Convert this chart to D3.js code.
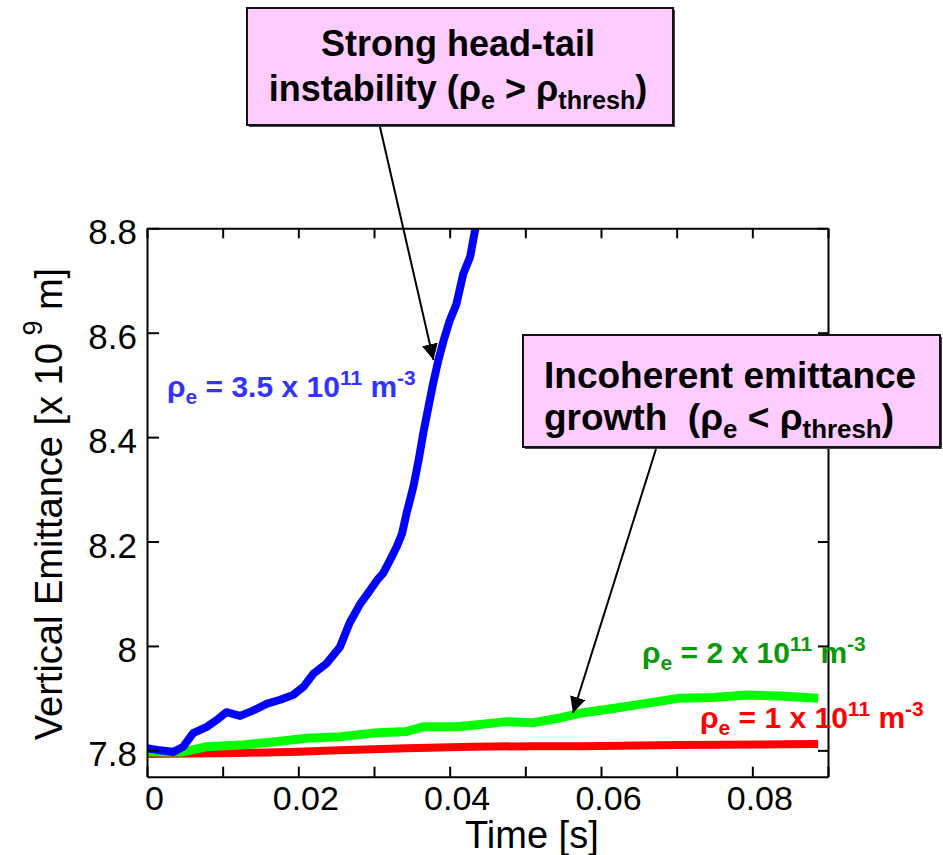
<!DOCTYPE html>
<html>
<head>
<meta charset="utf-8">
<script src="https://cdn.jsdelivr.net/npm/d3@7/dist/d3.min.js"></script>
<style>
  html, body { margin: 0; padding: 0; background: #fff; }
  svg { display: block; }
  text { font-family: "Liberation Sans", Arial, Helvetica, sans-serif; white-space: pre; }
</style>
</head>
<body>
<svg id="chart" width="943" height="855"></svg>
<script>
// ---------------- data ----------------
const blueTime = [0, 0.0017, 0.0035, 0.0048, 0.0061, 0.0079, 0.0092, 0.0105, 0.0123, 0.014,
  0.0158, 0.0176, 0.0193, 0.0207, 0.022, 0.0237, 0.0255, 0.0268, 0.0282, 0.0295, 0.0304,
  0.0312, 0.0321, 0.033, 0.0337, 0.0343, 0.0352, 0.0359, 0.0365, 0.0372, 0.0378, 0.0385,
  0.0392, 0.04, 0.0409, 0.0418, 0.0427, 0.0434, 0.0442];
const blueEmit = [7.804, 7.800, 7.797, 7.807, 7.833, 7.845, 7.858, 7.873, 7.866, 7.876,
  7.889, 7.897, 7.906, 7.922, 7.947, 7.966, 7.998, 8.045, 8.081, 8.107, 8.126,
  8.139, 8.164, 8.190, 8.215, 8.254, 8.305, 8.356, 8.407, 8.458, 8.502, 8.547,
  8.585, 8.623, 8.655, 8.713, 8.745, 8.800, 8.840];

const greenTime = [0, 0.0048, 0.0079, 0.0123, 0.0167, 0.0211, 0.0255, 0.0299, 0.0343, 0.0365,
  0.0409, 0.0431, 0.0475, 0.0511, 0.0546, 0.0572, 0.0616, 0.066, 0.0704, 0.0748, 0.0793,
  0.0837, 0.0887];
const greenEmit = [7.797, 7.797, 7.807, 7.810, 7.816, 7.823, 7.826, 7.833, 7.836, 7.845,
  7.845, 7.848, 7.855, 7.853, 7.862, 7.871, 7.880, 7.890, 7.900, 7.901, 7.906,
  7.904, 7.900];

const redTime = [0, 0.0123, 0.0189, 0.0255, 0.0343, 0.0431, 0.0511, 0.0572, 0.0704, 0.0887];
const redEmit = [7.793, 7.795, 7.797, 7.800, 7.804, 7.807, 7.808, 7.808, 7.810, 7.812];

const xTickValues = [0, 0.01, 0.02, 0.03, 0.04, 0.05, 0.06, 0.07, 0.08, 0.09];
const xTickLabels = ["0", "", "0.02", "", "0.04", "", "0.06", "", "0.08", ""];
const yTickValues = [7.8, 8, 8.2, 8.4, 8.6, 8.8];
const yTickLabels = ["7.8", "8", "8.2", "8.4", "8.6", "8.8"];

// ---------------- layout ----------------
const svg = d3.select("#chart");
const L = 147, R = 828, T = 228.3, B = 776.7;
const x = d3.scaleLinear().domain([0, 0.09]).range([L, R]);
const y = d3.scaleLinear().domain([7.7495, 8.8]).range([B, T]);

svg.append("defs").append("clipPath").attr("id", "plotclip")
  .append("rect").attr("x", L).attr("y", T).attr("width", R - L).attr("height", B - T);

const zip = (ts, vs) => ts.map((t, i) => [t, vs[i]]);
const line = d3.line().x(d => x(d[0])).y(d => y(d[1]));

const curves = svg.append("g").attr("clip-path", "url(#plotclip)");
[
  {data: zip(redTime, redEmit), color: "#ff0000", w: 8},
  {data: zip(greenTime, greenEmit), color: "#00ff00", w: 9},
  {data: zip(blueTime, blueEmit), color: "#0000ff", w: 8}
].forEach(s => {
  curves.append("path").datum(s.data).attr("d", line)
    .attr("fill", "none").attr("stroke", s.color).attr("stroke-width", s.w)
    .attr("stroke-linejoin", "round").attr("stroke-linecap", "butt");
});

// ---------------- axes ----------------
function styleAxis(g) {
  g.selectAll("path.domain").attr("stroke", "#000").attr("stroke-width", 2);
  g.selectAll(".tick line").attr("stroke", "#000").attr("stroke-width", 2);
}
const gB = svg.append("g").attr("transform", `translate(0,${B})`)
  .call(d3.axisBottom(x).tickValues(xTickValues).tickSizeInner(-10).tickSizeOuter(0)
    .tickPadding(0).tickFormat((d, i) => xTickLabels[i]));
styleAxis(gB);
gB.selectAll(".tick text").attr("fill", "#000").attr("font-size", 34)
  .attr("dy", null).attr("y", 33).attr("dx", 7);

const gT = svg.append("g").attr("transform", `translate(0,${T})`)
  .call(d3.axisTop(x).tickValues(xTickValues).tickSizeInner(-10).tickSizeOuter(0).tickFormat(""));
styleAxis(gT);

const gL = svg.append("g").attr("transform", `translate(${L},0)`)
  .call(d3.axisLeft(y).tickValues(yTickValues).tickSizeInner(-12).tickSizeOuter(0)
    .tickPadding(10).tickFormat((d, i) => yTickLabels[i]));
styleAxis(gL);
gL.selectAll(".tick text").attr("fill", "#000").attr("font-size", 35)
  .attr("dy", "0.36em").attr("y", 3);

const gR = svg.append("g").attr("transform", `translate(${R},0)`)
  .call(d3.axisRight(y).tickValues(yTickValues).tickSizeInner(-10).tickSizeOuter(0).tickFormat(""));
styleAxis(gR);

// axis titles
svg.append("text").attr("x", 465).attr("y", 848).attr("font-size", 38).attr("fill", "#000")
  .text("Time [s]");

const yt = svg.append("text").attr("transform", "translate(62,504) rotate(-90)")
  .attr("text-anchor", "middle").attr("font-size", 38).attr("fill", "#000");
yt.append("tspan").text("Vertical Emittance [x 10");
yt.append("tspan").attr("font-size", 27).attr("dy", -20).text(" 9");
yt.append("tspan").attr("dy", 20).text(" m]");

// ---------------- curve labels ----------------
function rhoLabel(xp, yp, color, mant) {
  const t = svg.append("text").attr("x", xp).attr("y", yp).attr("fill", color)
    .attr("font-size", 30).attr("font-weight", "bold");
  t.append("tspan").text("ρ");
  t.append("tspan").attr("font-size", 21).attr("dy", 7).text("e");
  t.append("tspan").attr("dy", -7).text(" = " + mant + " x 10");
  t.append("tspan").attr("font-size", 21).attr("dy", -12).text("11");
  t.append("tspan").attr("dy", 12).text(" m");
  t.append("tspan").attr("font-size", 21).attr("dy", -12).text("-3");
  return t;
}
rhoLabel(167, 397, "#3333ff", "3.5");
rhoLabel(642, 663, "#0a990a", "2");
rhoLabel(700, 728, "#ff0000", "1");

// ---------------- annotation boxes ----------------
const defs = svg.select("defs");
defs.append("marker").attr("id", "ah").attr("viewBox", "0 0 10 10")
  .attr("refX", 10).attr("refY", 5).attr("markerWidth", 16).attr("markerHeight", 16)
  .attr("markerUnits", "userSpaceOnUse").attr("orient", "auto")
  .append("path").attr("d", "M0,0 L10,5 L0,10 z").attr("fill", "#000");

function box(x0, y0, w, h) {
  svg.append("rect").attr("x", x0 + 2).attr("y", y0 + 2).attr("width", w).attr("height", h)
    .attr("fill", "#444");
  svg.append("rect").attr("x", x0).attr("y", y0).attr("width", w).attr("height", h)
    .attr("fill", "#ffccff").attr("stroke", "#111").attr("stroke-width", 2);
}
function rhoText(xp, yp, anchor, pre, op, fs) {
  const t = svg.append("text").attr("x", xp).attr("y", yp).attr("text-anchor", anchor)
    .attr("font-size", fs).attr("font-weight", "bold").attr("fill", "#000");
  t.append("tspan").text(pre + "(ρ");
  t.append("tspan").attr("font-size", fs * 0.7).attr("dy", 8).text("e");
  t.append("tspan").attr("dy", -8).text(" " + op + " ρ");
  t.append("tspan").attr("font-size", fs * 0.7).attr("dy", 8).text("thresh");
  t.append("tspan").attr("dy", -8).text(")");
}

// box 1
box(247, 8, 426, 117);
svg.append("text").attr("x", 458).attr("y", 56).attr("text-anchor", "middle")
  .attr("font-size", 36).attr("font-weight", "bold").attr("fill", "#000").text("Strong head-tail");
rhoText(458, 101, "middle", "instability ", ">", 36);
svg.append("line").attr("x1", 380).attr("y1", 127).attr("x2", 433.5).attr("y2", 360)
  .attr("stroke", "#000").attr("stroke-width", 2).attr("marker-end", "url(#ah)");

// box 2
box(523, 335, 417, 112);
svg.append("text").attr("x", 544).attr("y", 388).attr("font-size", 37).attr("font-weight", "bold")
  .attr("fill", "#000").text("Incoherent emittance");
rhoText(544, 430, "start", "growth  ", "<", 37);
svg.append("line").attr("x1", 656).attr("y1", 449).attr("x2", 573).attr("y2", 713)
  .attr("stroke", "#000").attr("stroke-width", 2).attr("marker-end", "url(#ah)");
</script>
</body>
</html>
